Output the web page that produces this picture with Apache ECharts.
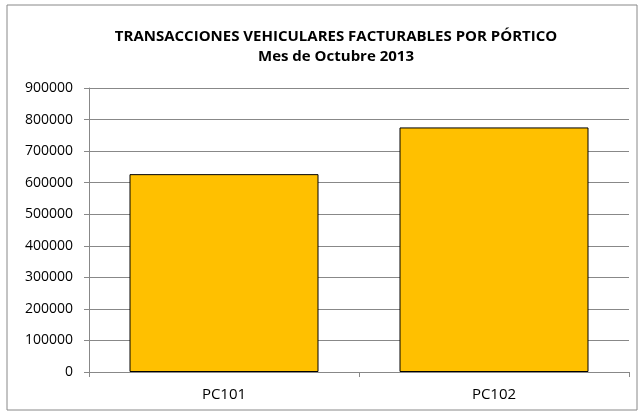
<!DOCTYPE html>
<html>
<head>
<meta charset="utf-8">
<script src="https://cdn.jsdelivr.net/npm/echarts@6/dist/echarts.min.js"></script>
<style>
html, body { margin: 0; padding: 0; background: #fff; }
#main { width: 643px; height: 415px; }
</style>
</head>
<body>
<div id="main"></div>
<script>
var categories = ['PC101', 'PC102'];
var transacciones = [627000, 775000];
var yTicks = [0, 100000, 200000, 300000, 400000, 500000, 600000, 700000, 800000, 900000];

var chartDom = document.getElementById('main');
var myChart = echarts.init(chartDom);
var option;

option = {
    animation: false,
    textStyle: {
        fontFamily: 'Open Sans'
    },
    title: {
        text: 'TRANSACCIONES VEHICULARES FACTURABLES POR PÓRTICO\nMes de Octubre 2013',
        left: 331,
        top: 22,
        textAlign: 'center',
        textStyle: {
            fontFamily: 'Open Sans',
            fontSize: 15,
            fontWeight: 'bold',
            color: '#000',
            lineHeight: 20
        }
    },
    graphic: [{
        type: 'rect',
        shape: { x: 7, y: 5, width: 630, height: 405 },
        style: { fill: 'none', stroke: '#888', lineWidth: 1 },
        silent: true
    }],
    grid: {
        left: 89,
        right: 14,
        top: 88,
        bottom: 43
    },
    xAxis: {
        type: 'category',
        data: categories,
        axisLine: { lineStyle: { color: '#888' } },
        axisTick: { show: true, length: 5, lineStyle: { color: '#888' } },
        axisLabel: { color: '#000', fontSize: 15, margin: 15 }
    },
    yAxis: {
        type: 'value',
        min: yTicks[0],
        max: yTicks[yTicks.length - 1],
        interval: 100000,
        axisLine: { show: true, lineStyle: { color: '#888' } },
        axisTick: { show: true, length: 5, lineStyle: { color: '#888' } },
        axisLabel: {
            color: '#000',
            fontSize: 14,
            margin: 16,
            formatter: function (v) { return String(v); }
        },
        splitLine: { lineStyle: { color: '#888' } }
    },
    series: [{
        type: 'bar',
        data: transacciones,
        barCategoryGap: '30%',
        itemStyle: {
            color: '#FFC000',
            borderColor: '#000',
            borderWidth: 1
        }
    }]
};

option && myChart.setOption(option);
</script>
</body>
</html>
